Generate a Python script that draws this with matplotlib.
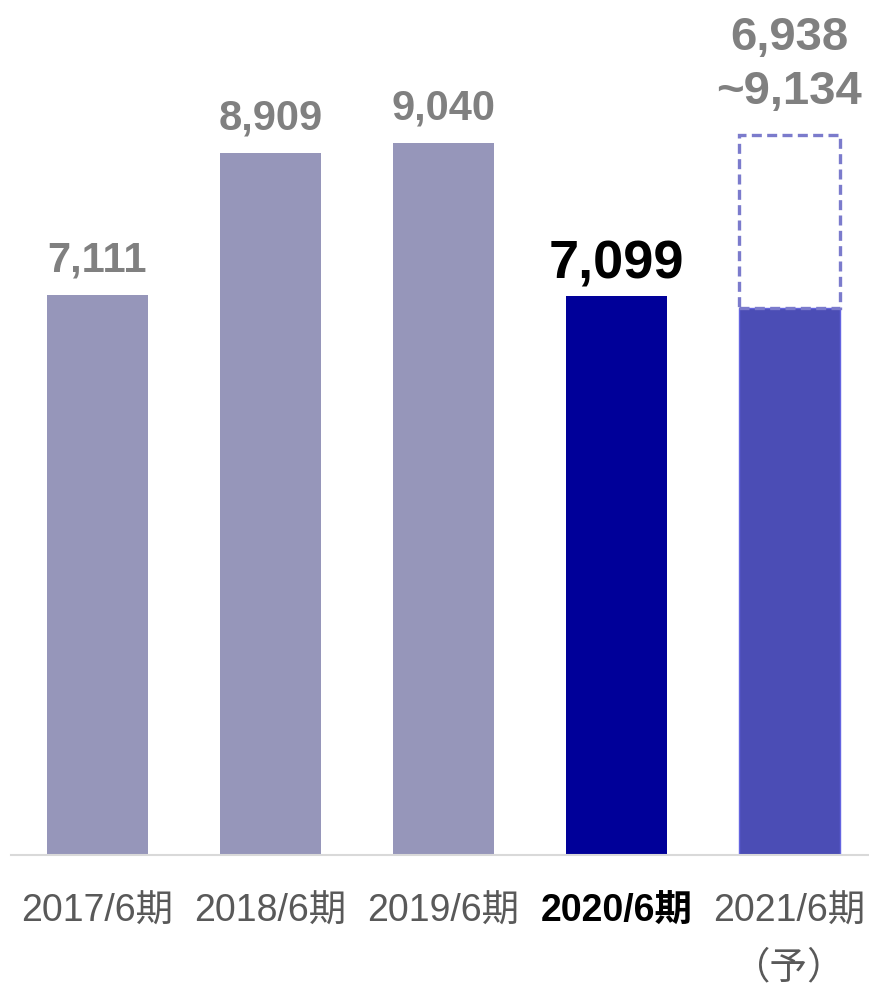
import matplotlib.pyplot as plt

periods = ["2017/6期", "2018/6期", "2019/6期", "2020/6期", "2021/6期\n（予）"]
sales = [7111, 8909, 9040, 7099]
forecast_low = 6938
forecast_high = 9134

past_color = "#9696ba"
current_color = "#000099"
forecast_color = "#4b4db5"
range_edge = "#7b7bcc"
label_gray = "#808080"
tick_gray = "#595959"

tick_font = ["Liberation Sans", "Noto Sans CJK JP", "DejaVu Sans"]
value_font = ["Liberation Sans", "DejaVu Sans"]

fig = plt.figure(figsize=(8.7, 9.89), dpi=100)
ax = fig.add_axes([11 / 870, 134 / 989, 858 / 870, 855 / 989])

x = list(range(len(periods)))
width = 0.585
colors = [past_color, past_color, past_color, current_color]
ax.bar(x[:4], sales, width=width, color=colors, zorder=2)

# forecast: solid lower bound plus dashed range up to the high end
ax.bar(x[4], forecast_low, width=width, color=forecast_color,
       edgecolor="#6464e0", linewidth=1, zorder=2)
ax.bar(x[4], forecast_high - forecast_low, bottom=forecast_low, width=width,
       facecolor="none", edgecolor=range_edge, linewidth=2.4,
       linestyle=(0, (3, 1.6)), zorder=3)

for i, v in enumerate(sales):
    if i == 3:
        ax.annotate(f"{v:,}", (x[i], v), xytext=(0, 12), textcoords="offset points",
                    ha="center", va="baseline", fontsize=39, fontweight="bold",
                    color="black", family=value_font)
    else:
        ax.annotate(f"{v:,}", (x[i], v), xytext=(0, 17), textcoords="offset points",
                    ha="center", va="baseline", fontsize=30, fontweight="bold",
                    color=label_gray, family=value_font)

ax.annotate(f"{forecast_low:,}\n~{forecast_high:,}", (x[4], forecast_high),
            xytext=(0, 15), textcoords="offset points", ha="center", va="bottom",
            fontsize=34, fontweight="bold", color=label_gray, family=value_font,
            linespacing=1.3)

ax.set_xlim(-0.5, 4.46)
ax.set_ylim(0, 10850)
ax.set_xticks(x)
ax.set_xticklabels(periods, family=tick_font, fontsize=27, color=tick_gray, va="top")
for lbl in ax.get_xticklabels():
    lbl.set_linespacing(1.72)
lbl = ax.get_xticklabels()[3]
lbl.set_fontweight("bold")
lbl.set_color("black")
ax.tick_params(axis="x", length=0, pad=28)
ax.set_yticks([])

for side in ("top", "left", "right"):
    ax.spines[side].set_visible(False)
ax.spines["bottom"].set_color("#d9d9d9")
ax.spines["bottom"].set_linewidth(1.5)

fig.savefig("out.png", dpi=100)
